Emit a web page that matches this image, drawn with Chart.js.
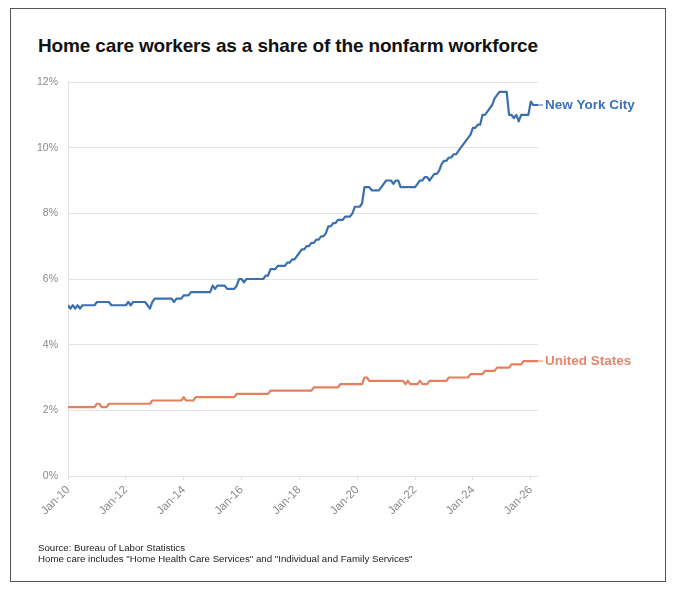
<!DOCTYPE html>
<html>
<head>
<meta charset="utf-8">
<script src="https://cdn.jsdelivr.net/npm/chart.js@4"></script>
<style>
  html, body { margin: 0; padding: 0; background: #fff; }
  body { width: 680px; height: 591px; position: relative; overflow: hidden; font-family: "Liberation Sans", Arial, sans-serif; }
  #frame { position: absolute; left: 10px; top: 8px; width: 656px; height: 574px; border: 1px solid #555; box-sizing: border-box; }
  #title { position: absolute; left: 38px; top: 35px; font-size: 19px; font-weight: bold; color: #111; white-space: nowrap; letter-spacing: -0.15px; }
  #notes { position: absolute; left: 38px; top: 542px; font-size: 9.7px; line-height: 11px; color: #222; white-space: nowrap; }
  #wrap { position: absolute; left: 0; top: 0; width: 680px; height: 591px; }
</style>
</head>
<body>
<div id="frame"></div>
<div id="title">Home care workers as a share of the nonfarm workforce</div>
<div id="wrap"><canvas id="shareChart"></canvas></div>
<div id="notes">Source: Bureau of Labor Statistics<br>Home care includes "Home Health Care Services" and "Individual and Family Services"</div>
<script>
// monthly share of nonfarm jobs (%), Jan 2010 onwards, one row per year
const nycShare = [
  5.2, 5.1, 5.2, 5.1, 5.2, 5.1, 5.2, 5.2, 5.2, 5.2, 5.2, 5.2,       // 2010
  5.3, 5.3, 5.3, 5.3, 5.3, 5.3, 5.2, 5.2, 5.2, 5.2, 5.2, 5.2,       // 2011
  5.2, 5.3, 5.2, 5.3, 5.3, 5.3, 5.3, 5.3, 5.3, 5.2, 5.1, 5.3,       // 2012
  5.4, 5.4, 5.4, 5.4, 5.4, 5.4, 5.4, 5.4, 5.3, 5.4, 5.4, 5.4,       // 2013
  5.5, 5.5, 5.5, 5.6, 5.6, 5.6, 5.6, 5.6, 5.6, 5.6, 5.6, 5.6,       // 2014
  5.8, 5.7, 5.8, 5.8, 5.8, 5.8, 5.7, 5.7, 5.7, 5.7, 5.8, 6.0,       // 2015
  6.0, 5.9, 6.0, 6.0, 6.0, 6.0, 6.0, 6.0, 6.0, 6.0, 6.1, 6.1,       // 2016
  6.3, 6.3, 6.3, 6.4, 6.4, 6.4, 6.4, 6.5, 6.5, 6.6, 6.6, 6.7,       // 2017
  6.8, 6.9, 6.9, 7.0, 7.0, 7.1, 7.1, 7.2, 7.2, 7.3, 7.3, 7.4,       // 2018
  7.6, 7.6, 7.7, 7.7, 7.8, 7.8, 7.8, 7.9, 7.9, 7.9, 8.0, 8.2,       // 2019
  8.2, 8.2, 8.3, 8.8, 8.8, 8.8, 8.7, 8.7, 8.7, 8.7, 8.8, 8.9,       // 2020
  9.0, 9.0, 9.0, 8.9, 9.0, 9.0, 8.8, 8.8, 8.8, 8.8, 8.8, 8.8,       // 2021
  8.8, 8.9, 9.0, 9.0, 9.1, 9.1, 9.0, 9.1, 9.2, 9.2, 9.3, 9.5,       // 2022
  9.6, 9.6, 9.7, 9.7, 9.8, 9.8, 9.9, 10.0, 10.1, 10.2, 10.3, 10.4,  // 2023
  10.6, 10.6, 10.7, 10.7, 11.0, 11.0, 11.1, 11.2, 11.3, 11.5, 11.6, 11.7, // 2024
  11.7, 11.7, 11.7, 11.0, 11.0, 10.9, 11.0, 10.8, 11.0, 11.0, 11.0, 11.0, // 2025
  11.4, 11.3, 11.3, 11.3                                             // 2026
];
const usShare = [
  2.1, 2.1, 2.1, 2.1, 2.1, 2.1, 2.1, 2.1, 2.1, 2.1, 2.1, 2.1,       // 2010
  2.2, 2.2, 2.1, 2.1, 2.1, 2.2, 2.2, 2.2, 2.2, 2.2, 2.2, 2.2,       // 2011
  2.2, 2.2, 2.2, 2.2, 2.2, 2.2, 2.2, 2.2, 2.2, 2.2, 2.2, 2.3,       // 2012
  2.3, 2.3, 2.3, 2.3, 2.3, 2.3, 2.3, 2.3, 2.3, 2.3, 2.3, 2.3,       // 2013
  2.4, 2.3, 2.3, 2.3, 2.3, 2.4, 2.4, 2.4, 2.4, 2.4, 2.4, 2.4,       // 2014
  2.4, 2.4, 2.4, 2.4, 2.4, 2.4, 2.4, 2.4, 2.4, 2.4, 2.5, 2.5,       // 2015
  2.5, 2.5, 2.5, 2.5, 2.5, 2.5, 2.5, 2.5, 2.5, 2.5, 2.5, 2.5,       // 2016
  2.6, 2.6, 2.6, 2.6, 2.6, 2.6, 2.6, 2.6, 2.6, 2.6, 2.6, 2.6,       // 2017
  2.6, 2.6, 2.6, 2.6, 2.6, 2.6, 2.7, 2.7, 2.7, 2.7, 2.7, 2.7,       // 2018
  2.7, 2.7, 2.7, 2.7, 2.7, 2.8, 2.8, 2.8, 2.8, 2.8, 2.8, 2.8,       // 2019
  2.8, 2.8, 2.8, 3.0, 3.0, 2.9, 2.9, 2.9, 2.9, 2.9, 2.9, 2.9,       // 2020
  2.9, 2.9, 2.9, 2.9, 2.9, 2.9, 2.9, 2.9, 2.8, 2.9, 2.8, 2.8,       // 2021
  2.8, 2.8, 2.9, 2.8, 2.8, 2.8, 2.9, 2.9, 2.9, 2.9, 2.9, 2.9,       // 2022
  2.9, 2.9, 3.0, 3.0, 3.0, 3.0, 3.0, 3.0, 3.0, 3.0, 3.0, 3.1,       // 2023
  3.1, 3.1, 3.1, 3.1, 3.1, 3.2, 3.2, 3.2, 3.2, 3.2, 3.3, 3.3,       // 2024
  3.3, 3.3, 3.3, 3.3, 3.4, 3.4, 3.4, 3.4, 3.4, 3.5, 3.5, 3.5,       // 2025
  3.5, 3.5, 3.5, 3.5                                                 // 2026
];
const seriesNames = ['New York City', 'United States'];
const tickLabels = ['Jan-10', 'Jan-12', 'Jan-14', 'Jan-16', 'Jan-18', 'Jan-20', 'Jan-22', 'Jan-24', 'Jan-26'];
const yTicks = [0, 2, 4, 6, 8, 10, 12];

const NYC_COLOR = '#3b6fb0';
const US_COLOR = '#e57f5d';
const GRID = '#e3e3e3';

// months since Jan 2010 on the x axis
const toPoints = arr => arr.map((v, i) => ({ x: i, y: v }));

// end-of-line labels
const endLabels = {
  id: 'endLabels',
  afterDatasetsDraw(chart) {
    const ctx = chart.ctx;
    chart.data.datasets.forEach((ds, i) => {
      const pts = chart.getDatasetMeta(i).data;
      const last = pts[pts.length - 1];
      ctx.save();
      ctx.strokeStyle = ds.borderColor;
      ctx.lineWidth = 1;
      ctx.beginPath();
      ctx.moveTo(last.x, last.y);
      ctx.lineTo(last.x + 5, last.y);
      ctx.stroke();
      ctx.fillStyle = ds.labelColor;
      ctx.font = 'bold 13.5px "Liberation Sans", Arial, sans-serif';
      ctx.textBaseline = 'middle';
      ctx.fillText(ds.label, last.x + 7, last.y);
      ctx.restore();
    });
  }
};

const ctx = document.getElementById('shareChart').getContext('2d');
Chart.defaults.font.family = '"Liberation Sans", Arial, sans-serif';

new Chart(ctx, {
  type: 'line',
  data: {
    datasets: [
      {
        label: seriesNames[0],
        data: toPoints(nycShare),
        borderColor: NYC_COLOR,
        labelColor: '#3c71b3',
        borderWidth: 2.2,
        pointRadius: 0,
        tension: 0,
        borderJoinStyle: 'round'
      },
      {
        label: seriesNames[1],
        data: toPoints(usShare),
        borderColor: US_COLOR,
        labelColor: '#e8856a',
        borderWidth: 2.2,
        pointRadius: 0,
        tension: 0,
        borderJoinStyle: 'round'
      }
    ]
  },
  options: {
    responsive: true,
    maintainAspectRatio: false,
    animation: false,
    layout: { padding: { left: 10, right: 142, top: 82, bottom: 65 } },
    plugins: {
      legend: { display: false },
      tooltip: { enabled: false }
    },
    scales: {
      x: {
        type: 'linear',
        min: 0,
        max: 195,
        afterBuildTicks: axis => {
          axis.ticks = tickLabels.map((t, i) => ({ value: i * 24 }));
        },
        afterFit: scale => { scale.height = 50; },
        grid: { drawOnChartArea: false, drawTicks: true, tickLength: 4, color: GRID },
        border: { display: false },
        ticks: {
          autoSkip: false,
          minRotation: 45,
          maxRotation: 45,
          padding: 3,
          color: '#8a8a8a',
          font: { size: 11.5 },
          callback: (v) => tickLabels[Math.round(v / 24)]
        }
      },
      y: {
        min: 0,
        max: 12,
        afterBuildTicks: axis => {
          axis.ticks = yTicks.map(v => ({ value: v }));
        },
        afterFit: scale => { scale.width = 58; },
        grid: { color: GRID, drawTicks: false },
        border: { display: true, color: GRID },
        ticks: {
          padding: 10,
          color: '#8a8a8a',
          font: { size: 10.5 },
          callback: v => v + '%'
        }
      }
    }
  },
  plugins: [endLabels]
});
</script>
</body>
</html>
